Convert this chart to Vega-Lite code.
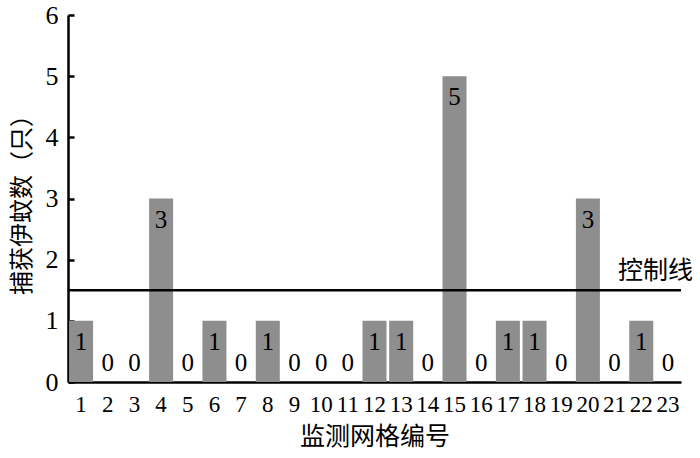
{
  "$schema": "https://vega.github.io/schema/vega-lite/v6.json",
  "autosize": {"type": "none"},
  "width": 613,
  "height": 367,
  "padding": {"left": 68, "top": 15, "right": 19, "bottom": 76},
  "background": "white",
  "config": {"view": {"stroke": null}},
  "datasets": {
    "bars": [
      {"grid": 1, "n": 1}, {"grid": 2, "n": 0}, {"grid": 3, "n": 0}, {"grid": 4, "n": 3},
      {"grid": 5, "n": 0}, {"grid": 6, "n": 1}, {"grid": 7, "n": 0}, {"grid": 8, "n": 1},
      {"grid": 9, "n": 0}, {"grid": 10, "n": 0}, {"grid": 11, "n": 0}, {"grid": 12, "n": 1},
      {"grid": 13, "n": 1}, {"grid": 14, "n": 0}, {"grid": 15, "n": 5}, {"grid": 16, "n": 0},
      {"grid": 17, "n": 1}, {"grid": 18, "n": 1}, {"grid": 19, "n": 0}, {"grid": 20, "n": 3},
      {"grid": 21, "n": 0}, {"grid": 22, "n": 1}, {"grid": 23, "n": 0}
    ],
    "control": [{"grid": 23, "y": 1.5, "label": "控制线"}]
  },
  "layer": [
    {
      "data": {"name": "bars"},
      "mark": {"type": "bar", "color": "#8e8e8e"},
      "encoding": {
        "x": {
          "field": "grid", "type": "ordinal", "sort": "ascending",
          "scale": {"paddingInner": 0.1, "paddingOuter": 0.04},
          "axis": {
            "title": "监测网格编号", "titleFont": "Noto Sans CJK SC", "titleFontSize": 25,
            "titleFontWeight": "normal", "titleColor": "black", "titlePadding": 8,
            "labelFont": "Liberation Serif", "labelFontSize": 23, "labelColor": "black",
            "labelAngle": 0, "labelPadding": 11, "ticks": false, "labelOverlap": false,
            "domainColor": "black", "domainWidth": 2.5
          }
        },
        "y": {
          "field": "n", "type": "quantitative",
          "scale": {"domain": [0, 6]},
          "axis": {
            "title": "捕获伊蚊数（只）", "titleFont": "Noto Sans CJK SC", "titleFontSize": 24,
            "titleFontWeight": "normal", "titleColor": "black", "titlePadding": 11,
            "labelFont": "Liberation Serif", "labelFontSize": 26, "labelColor": "black",
            "labelPadding": 16, "values": [0, 1, 2, 3, 4, 5, 6], "format": "d", "labelOverlap": false,
            "labelFlush": false,
            "tickSize": -6, "tickColor": "black", "tickWidth": 2.5, "grid": false,
            "domainColor": "black", "domainWidth": 2.5
          }
        }
      }
    },
    {
      "data": {"name": "bars"},
      "transform": [{"filter": "datum.n > 0"}],
      "mark": {"type": "text", "font": "Liberation Serif", "fontSize": 25, "color": "black", "baseline": "top", "dy": 9},
      "encoding": {
        "x": {"field": "grid", "type": "ordinal"},
        "y": {"field": "n", "type": "quantitative"},
        "text": {"field": "n", "type": "nominal"}
      }
    },
    {
      "data": {"name": "bars"},
      "transform": [{"filter": "datum.n == 0"}],
      "mark": {"type": "text", "font": "Liberation Serif", "fontSize": 25, "color": "black", "baseline": "bottom", "dy": -6},
      "encoding": {
        "x": {"field": "grid", "type": "ordinal"},
        "y": {"field": "n", "type": "quantitative"},
        "text": {"field": "n", "type": "nominal"}
      }
    },
    {
      "data": {"name": "control"},
      "mark": {"type": "rule", "color": "black", "strokeWidth": 2.5},
      "encoding": {"y": {"field": "y", "type": "quantitative"}}
    },
    {
      "data": {"name": "control"},
      "mark": {"type": "text", "font": "Noto Sans CJK SC", "fontSize": 25, "color": "black", "align": "right", "baseline": "middle", "dx": 25, "dy": -19},
      "encoding": {
        "x": {"field": "grid", "type": "ordinal"},
        "y": {"field": "y", "type": "quantitative"},
        "text": {"field": "label"}
      }
    }
  ]
}
